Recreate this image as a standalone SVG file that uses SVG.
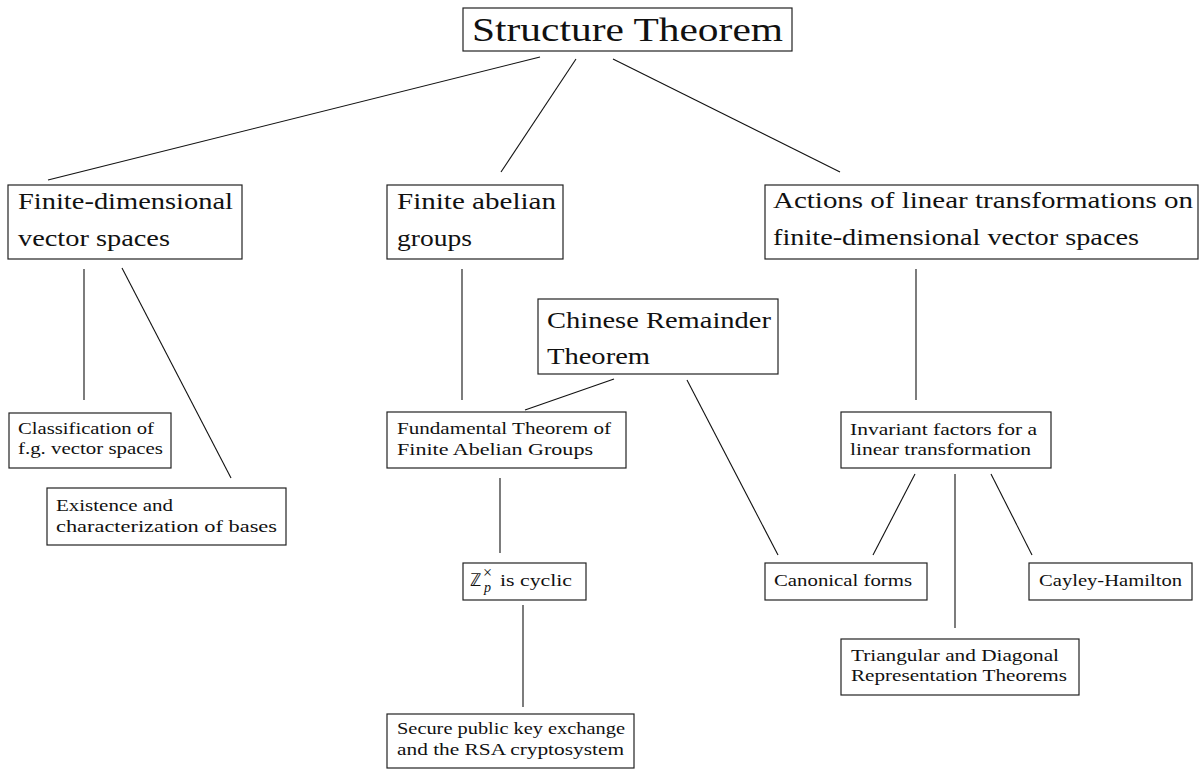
<svg xmlns="http://www.w3.org/2000/svg" width="1204" height="770" viewBox="0 0 1204 770">
<style>
  .box { fill: #ffffff; stroke: #222222; stroke-width: 1.2; }
  .edge { stroke: #111111; stroke-width: 1.1; fill: none; }
  text { font-family: "Liberation Serif", "Times New Roman", serif; fill: #111111; }
  .t0 { font-size: 34px; }
  .t1 { font-size: 23px; }
  .t2 { font-size: 16px; }
</style>
<rect width="1204" height="770" fill="#ffffff"/>
<g id="connectors">
  <line class="edge" x1="540" y1="57" x2="48" y2="180"/>
  <line class="edge" x1="576" y1="59" x2="501" y2="172"/>
  <line class="edge" x1="613" y1="59" x2="840" y2="172"/>
  <line class="edge" x1="84" y1="269" x2="84" y2="400"/>
  <line class="edge" x1="122" y1="268" x2="231" y2="478"/>
  <line class="edge" x1="462" y1="269" x2="462" y2="400"/>
  <line class="edge" x1="614" y1="379" x2="525" y2="410"/>
  <line class="edge" x1="687" y1="380" x2="778" y2="555"/>
  <line class="edge" x1="500" y1="478" x2="500" y2="553"/>
  <line class="edge" x1="523" y1="605" x2="523" y2="707"/>
  <line class="edge" x1="916" y1="269" x2="916" y2="400"/>
  <line class="edge" x1="915" y1="474" x2="873" y2="555"/>
  <line class="edge" x1="955" y1="474" x2="955" y2="628"/>
  <line class="edge" x1="991" y1="474" x2="1032" y2="555"/>
</g>
<g id="structure-theorem">
  <rect class="box" x="463" y="8" width="329" height="43"/>
  <text class="t0" x="472" y="41" textLength="311" lengthAdjust="spacingAndGlyphs">Structure Theorem</text>
</g>
<g id="finite-dim">
  <rect class="box" x="8" y="185" width="234" height="74"/>
  <text class="t1" x="18" y="209" textLength="215" lengthAdjust="spacingAndGlyphs">Finite-dimensional</text>
  <text class="t1" x="18" y="246" textLength="152" lengthAdjust="spacingAndGlyphs">vector spaces</text>
</g>
<g id="finite-abelian">
  <rect class="box" x="387" y="185" width="176" height="74"/>
  <text class="t1" x="397" y="209" textLength="159" lengthAdjust="spacingAndGlyphs">Finite abelian</text>
  <text class="t1" x="397" y="246" textLength="75" lengthAdjust="spacingAndGlyphs">groups</text>
</g>
<g id="actions">
  <rect class="box" x="765" y="185" width="433" height="74"/>
  <text class="t1" x="773" y="208" textLength="420" lengthAdjust="spacingAndGlyphs">Actions of linear transformations on</text>
  <text class="t1" x="773" y="245" textLength="366" lengthAdjust="spacingAndGlyphs">finite-dimensional vector spaces</text>
</g>
<g id="crt">
  <rect class="box" x="538" y="299" width="240" height="75"/>
  <text class="t1" x="547" y="328" textLength="224" lengthAdjust="spacingAndGlyphs">Chinese Remainder</text>
  <text class="t1" x="547" y="364" textLength="103" lengthAdjust="spacingAndGlyphs">Theorem</text>
</g>
<g id="classification">
  <rect class="box" x="9" y="413" width="162" height="55"/>
  <text class="t2" x="18" y="434" textLength="136" lengthAdjust="spacingAndGlyphs">Classification of</text>
  <text class="t2" x="18" y="454" textLength="145" lengthAdjust="spacingAndGlyphs">f.g. vector spaces</text>
</g>
<g id="existence">
  <rect class="box" x="47" y="488" width="239" height="57"/>
  <text class="t2" x="56" y="511" textLength="117" lengthAdjust="spacingAndGlyphs">Existence and</text>
  <text class="t2" x="56" y="532" textLength="221" lengthAdjust="spacingAndGlyphs">characterization of bases</text>
</g>
<g id="fundamental">
  <rect class="box" x="387" y="412" width="239" height="56"/>
  <text class="t2" x="397" y="434" textLength="214" lengthAdjust="spacingAndGlyphs">Fundamental Theorem of</text>
  <text class="t2" x="397" y="455" textLength="196" lengthAdjust="spacingAndGlyphs">Finite Abelian Groups</text>
</g>
<g id="zp-cyclic">
  <rect class="box" x="463" y="563" width="123" height="37"/>
  <text x="470" y="586" font-family="DejaVu Serif, serif" font-size="18">ℤ</text>
  <text x="484" y="592" font-size="14" font-style="italic">p</text>
  <text x="483" y="578" font-size="16">×</text>
  <text class="t2" x="500" y="586" textLength="72" lengthAdjust="spacingAndGlyphs">is cyclic</text>
</g>
<g id="secure">
  <rect class="box" x="387" y="714" width="247" height="54"/>
  <text class="t2" x="397" y="734" textLength="228" lengthAdjust="spacingAndGlyphs">Secure public key exchange</text>
  <text class="t2" x="397" y="755" textLength="227" lengthAdjust="spacingAndGlyphs">and the RSA cryptosystem</text>
</g>
<g id="invariant">
  <rect class="box" x="841" y="412" width="210" height="56"/>
  <text class="t2" x="850" y="435" textLength="187" lengthAdjust="spacingAndGlyphs">Invariant factors for a</text>
  <text class="t2" x="850" y="455" textLength="181" lengthAdjust="spacingAndGlyphs">linear transformation</text>
</g>
<g id="canonical">
  <rect class="box" x="765" y="563" width="162" height="37"/>
  <text class="t2" x="774" y="586" textLength="138" lengthAdjust="spacingAndGlyphs">Canonical forms</text>
</g>
<g id="cayley">
  <rect class="box" x="1029" y="563" width="163" height="37"/>
  <text class="t2" x="1039" y="586" textLength="143" lengthAdjust="spacingAndGlyphs">Cayley-Hamilton</text>
</g>
<g id="triangular">
  <rect class="box" x="841" y="639" width="238" height="56"/>
  <text class="t2" x="851" y="661" textLength="208" lengthAdjust="spacingAndGlyphs">Triangular and Diagonal</text>
  <text class="t2" x="851" y="681" textLength="216" lengthAdjust="spacingAndGlyphs">Representation Theorems</text>
</g>
</svg>
